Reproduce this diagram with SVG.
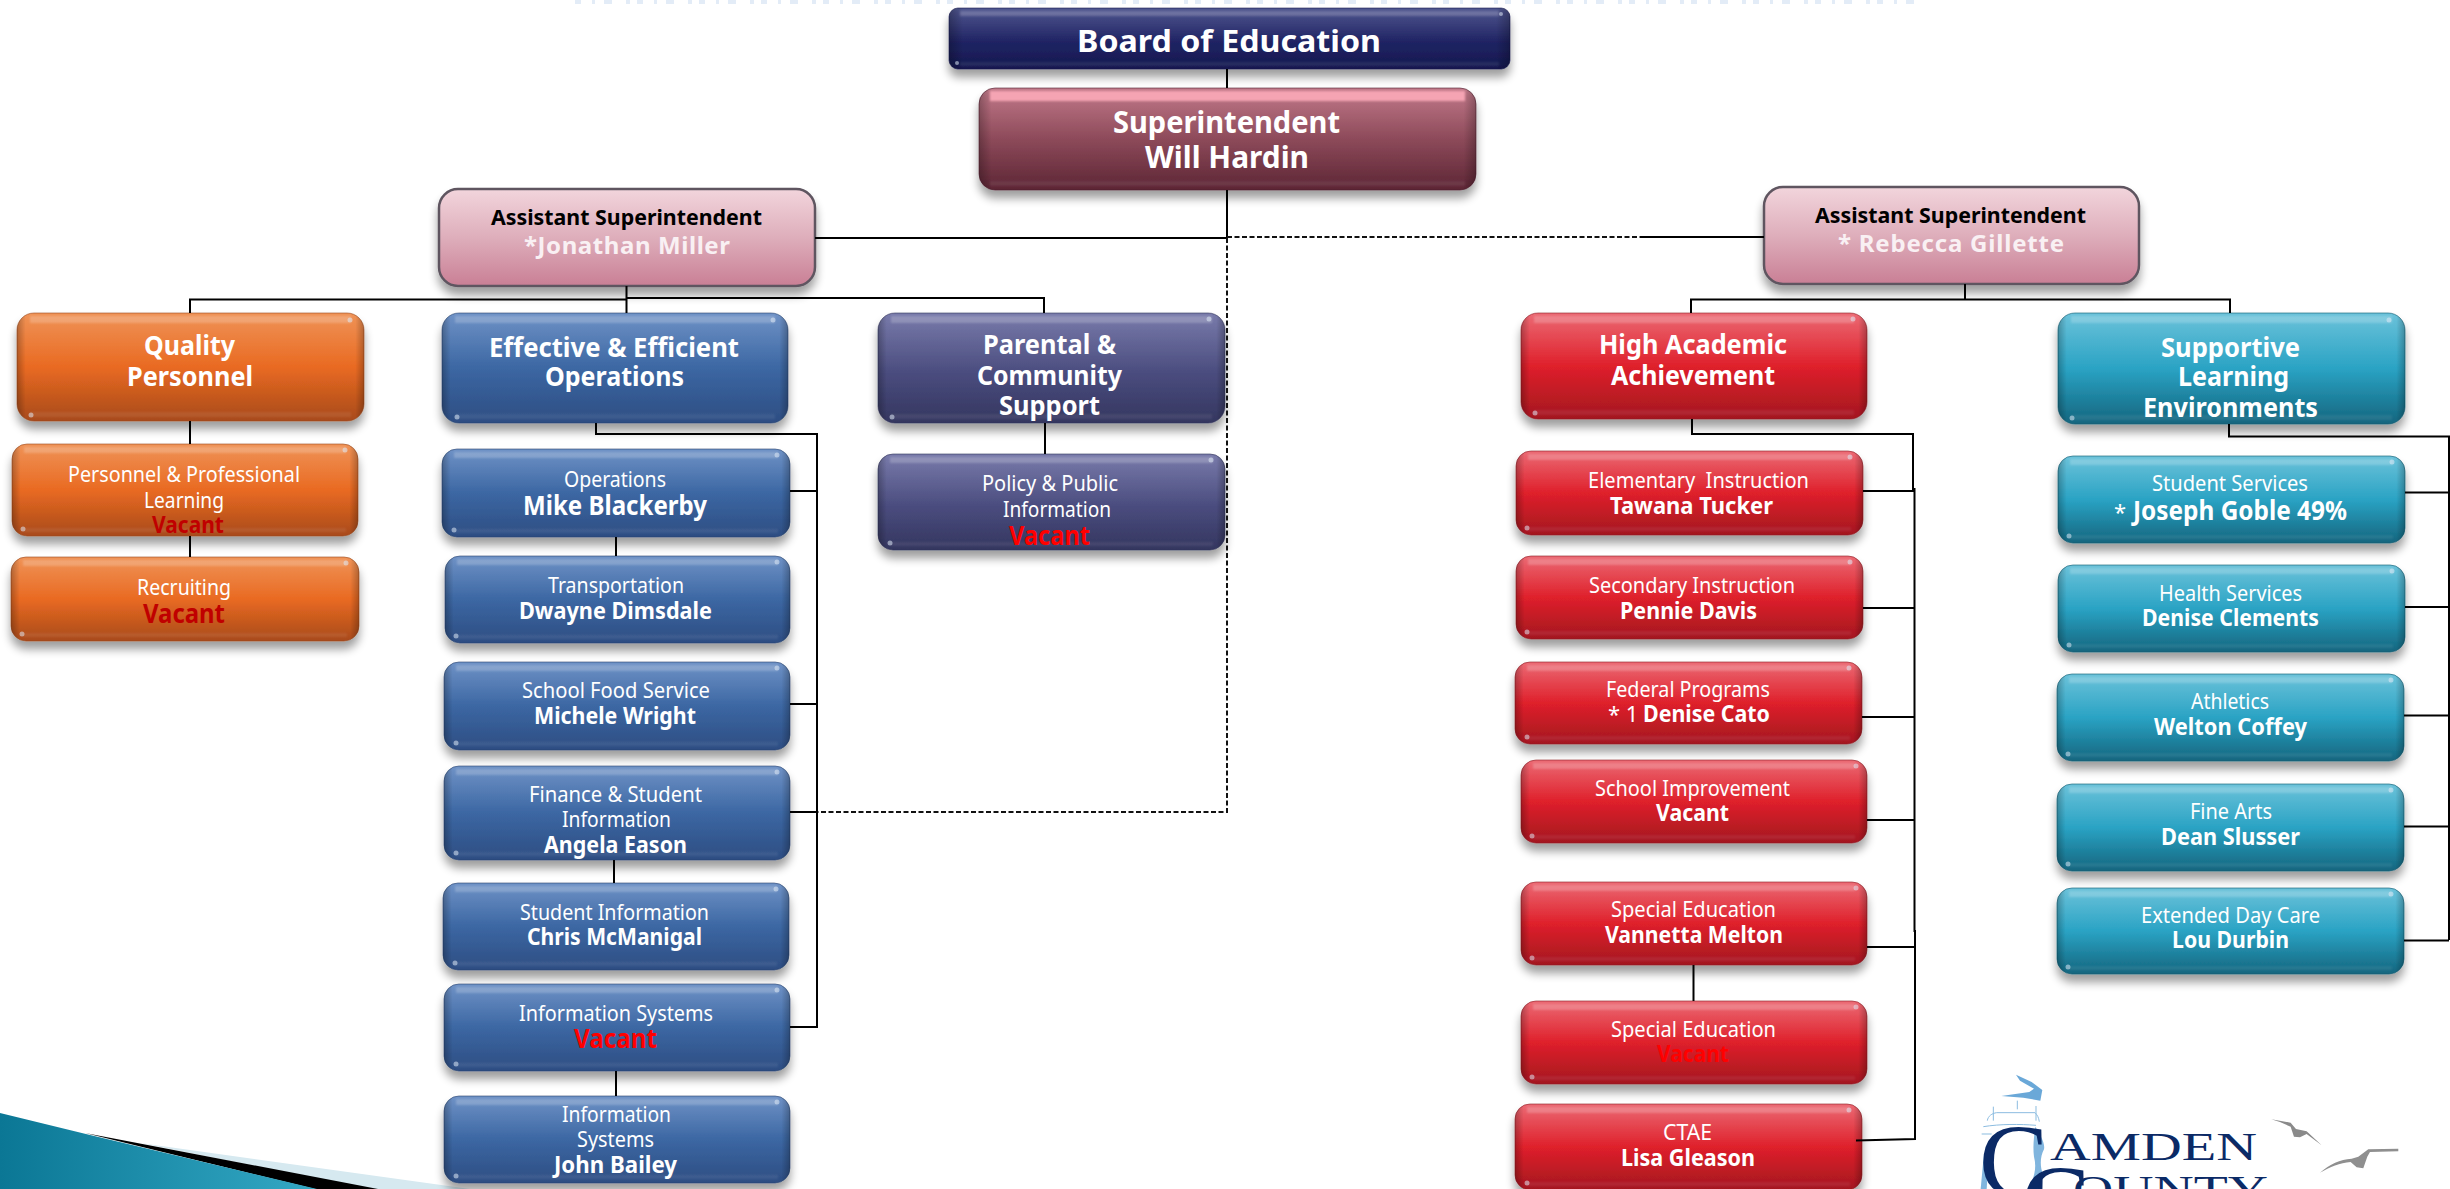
<svg xmlns="http://www.w3.org/2000/svg" width="2450" height="1189" viewBox="0 0 2450 1189">
<style>
text{font-family:"Noto Sans","Open Sans","DejaVu Sans",sans-serif;fill:#fff}
g[id^="n-"]:not(#n-board):not(#n-super),#connectors{transform:translateY(1px)}
.r{font-size:22px;font-weight:400}
.b{font-size:23px;font-weight:700}
.h{font-size:26px;font-weight:700}
.xl{font-size:31px;font-weight:700}
.k{font-size:22px;font-weight:700;fill:#000}
.p{font-size:24px;font-weight:700;fill:#f9f0f3}
.vd{fill:#c00000}
.vr{fill:#ff0000}
.box{filter:url(#sh)}
.orange{fill:url(#gO);stroke:#9a4a20;stroke-opacity:.6}
.blue{fill:url(#gB);stroke:#2a4470;stroke-opacity:.6}
.indigo{fill:url(#gI);stroke:#33355a;stroke-opacity:.6}
.red{fill:url(#gR);stroke:#8e1c24;stroke-opacity:.6}
.teal{fill:url(#gT);stroke:#125a70;stroke-opacity:.6}
.maroon{fill:url(#gM);stroke:#4e2030;stroke-opacity:.6}
.navy{fill:url(#gN);stroke:#14174e;stroke-opacity:.6}
.pink{fill:url(#gP);stroke:#5e5560;stroke-width:2.5}
.edge{fill:url(#gE)}
.ht{fill:#fff;opacity:.2;filter:url(#bl)}
.hb{fill:#fff;opacity:.07;filter:url(#bl)}
.dot{fill:#dfeaf6;opacity:.55}
.ln{fill:none;stroke:#000;stroke-width:2}
.da{fill:none;stroke:#111;stroke-width:2;stroke-dasharray:5 2.5}
.lg{font-family:"Liberation Serif",serif;fill:#0b2a66}
</style>
<defs>
<filter id="sh" x="-6%" y="-10%" width="112%" height="140%"><feGaussianBlur in="SourceAlpha" stdDeviation="5"/><feOffset dy="8"/><feComponentTransfer><feFuncA type="linear" slope=".38"/></feComponentTransfer><feMerge><feMergeNode/><feMergeNode in="SourceGraphic"/></feMerge></filter>
<filter id="bl" x="-5%" y="-50%" width="110%" height="200%"><feGaussianBlur stdDeviation="1.3"/></filter>
<linearGradient id="gO" x1="0" y1="0" x2="0" y2="1"><stop offset="0" stop-color="#ef9357"/><stop offset=".5" stop-color="#e96a22"/><stop offset="1" stop-color="#a84a1a"/></linearGradient>
<linearGradient id="gB" x1="0" y1="0" x2="0" y2="1"><stop offset="0" stop-color="#6f92c6"/><stop offset=".5" stop-color="#3c67a3"/><stop offset="1" stop-color="#2d4d82"/></linearGradient>
<linearGradient id="gI" x1="0" y1="0" x2="0" y2="1"><stop offset="0" stop-color="#797bab"/><stop offset=".55" stop-color="#4a4c7e"/><stop offset="1" stop-color="#34365f"/></linearGradient>
<linearGradient id="gR" x1="0" y1="0" x2="0" y2="1"><stop offset="0" stop-color="#eb6a74"/><stop offset=".5" stop-color="#df202b"/><stop offset="1" stop-color="#a3171f"/></linearGradient>
<linearGradient id="gT" x1="0" y1="0" x2="0" y2="1"><stop offset="0" stop-color="#6bc2da"/><stop offset=".5" stop-color="#2aa3c4"/><stop offset="1" stop-color="#14657e"/></linearGradient>
<linearGradient id="gM" x1="0" y1="0" x2="0" y2="1"><stop offset="0" stop-color="#c27a8a"/><stop offset=".5" stop-color="#8d4a5a"/><stop offset="1" stop-color="#5c2534"/></linearGradient>
<linearGradient id="gN" x1="0" y1="0" x2="0" y2="1"><stop offset="0" stop-color="#50568f"/><stop offset=".55" stop-color="#202464"/><stop offset="1" stop-color="#15184f"/></linearGradient>
<linearGradient id="gP" x1="0" y1="0" x2="0" y2="1"><stop offset="0" stop-color="#f2d5dc"/><stop offset=".5" stop-color="#deaebb"/><stop offset="1" stop-color="#c97f95"/></linearGradient>
<linearGradient id="gE" x1="0" y1="0" x2="1" y2="0"><stop offset="0" stop-color="#000" stop-opacity=".25"/><stop offset=".025" stop-color="#000" stop-opacity="0"/><stop offset=".975" stop-color="#000" stop-opacity="0"/><stop offset="1" stop-color="#000" stop-opacity=".25"/></linearGradient>
<linearGradient id="gS" x1="0" y1="0" x2="1" y2="0"><stop offset="0" stop-color="#0b7795"/><stop offset="1" stop-color="#33a8c4"/></linearGradient>
</defs>

<g id="decor">
<line x1="575" y1="2" x2="1915" y2="2" stroke="#e3ecf7" stroke-width="4" stroke-dasharray="6 11 3 9 8 14 4 7"/>
<polygon points="140,1143 470,1189 370,1189" fill="#d6e9f0"/>
<polygon points="85,1133 378,1189 315,1189" fill="#000"/>
<polygon points="0,1113 90,1135 317,1189 0,1189" fill="url(#gS)"/>
</g>

<g id="n-board"><rect class="box navy" x="949" y="8" width="561" height="61" rx="9"/><rect class="edge" x="949" y="8" width="561" height="61" rx="9"/><rect class="ht" x="960" y="11" width="539" height="5"/><rect class="hb" x="960" y="62" width="539" height="4"/><circle class="dot" cx="1501" cy="14" r="2"/><circle class="dot" cx="957" cy="63" r="2"/><text class="xl" x="1077" y="52" textLength="304" lengthAdjust="spacingAndGlyphs">Board of Education</text></g>

<g id="n-super"><rect class="box maroon" x="979" y="88" width="497" height="102" rx="16"/><rect class="edge" x="979" y="88" width="497" height="102" rx="16"/><rect x="990" y="91" width="475" height="10" fill="#f5a4b3" filter="url(#bl)"/><rect class="hb" x="990" y="181" width="475" height="5"/><text class="xl" x="1113" y="133" textLength="227" lengthAdjust="spacingAndGlyphs">Superintendent</text><text class="xl" x="1145" y="168" textLength="164" lengthAdjust="spacingAndGlyphs">Will Hardin</text></g>

<g id="n-asst-l"><rect class="box pink" x="439" y="188" width="376" height="97" rx="19"/><text class="k" x="491" y="224" textLength="271" lengthAdjust="spacingAndGlyphs">Assistant Superintendent</text><text class="p" x="524" y="253" textLength="206">*Jonathan Miller</text></g>

<g id="n-asst-r"><rect class="box pink" x="1764" y="186" width="375" height="97" rx="19"/><text class="k" x="1815" y="222" textLength="271" lengthAdjust="spacingAndGlyphs">Assistant Superintendent</text><text class="p" x="1838" y="251" textLength="226">* Rebecca Gillette</text></g>

<g id="n-quality"><rect class="box orange" x="17" y="312" width="347" height="108" rx="17"/><rect class="edge" x="17" y="312" width="347" height="108" rx="17"/><rect class="ht" x="30" y="315" width="321" height="7"/><rect class="hb" x="30" y="411" width="321" height="5"/><circle class="dot" cx="350" cy="319" r="2.5"/><circle class="dot" cx="31" cy="414" r="2.5"/><text class="h" x="144" y="354" textLength="91" lengthAdjust="spacingAndGlyphs">Quality</text><text class="h" x="127" y="385" textLength="126" lengthAdjust="spacingAndGlyphs">Personnel</text></g>

<g id="n-ppd"><rect class="box orange" x="12" y="443" width="346" height="92" rx="15"/><rect class="edge" x="12" y="443" width="346" height="92" rx="15"/><rect class="ht" x="24" y="446" width="322" height="6"/><rect class="hb" x="24" y="527" width="322" height="4"/><circle class="dot" cx="345" cy="449" r="2.5"/><circle class="dot" cx="23" cy="528" r="2.5"/><text class="r" x="68" y="481" textLength="232" lengthAdjust="spacingAndGlyphs">Personnel &amp; Professional</text><text class="r" x="144" y="507" textLength="80" lengthAdjust="spacingAndGlyphs">Learning</text><text class="b vd" x="152" y="532" textLength="72" lengthAdjust="spacingAndGlyphs">Vacant</text></g>

<g id="n-recruit"><rect class="box orange" x="11" y="556" width="348" height="84" rx="15"/><rect class="edge" x="11" y="556" width="348" height="84" rx="15"/><rect class="ht" x="23" y="559" width="324" height="6"/><rect class="hb" x="23" y="632" width="324" height="4"/><circle class="dot" cx="346" cy="562" r="2.5"/><circle class="dot" cx="22" cy="633" r="2.5"/><text class="r" x="137" y="594" textLength="94" lengthAdjust="spacingAndGlyphs">Recruiting</text><text class="h vd" x="143" y="622" textLength="82" lengthAdjust="spacingAndGlyphs">Vacant</text></g>

<g id="n-eeo"><rect class="box blue" x="442" y="312" width="346" height="110" rx="17"/><rect class="edge" x="442" y="312" width="346" height="110" rx="17"/><rect class="ht" x="455" y="315" width="320" height="7"/><rect class="hb" x="455" y="413" width="320" height="5"/><circle class="dot" cx="773" cy="319" r="2.5"/><circle class="dot" cx="457" cy="416" r="2.5"/><text class="h" x="489" y="356" textLength="250" lengthAdjust="spacingAndGlyphs">Effective &amp; Efficient</text><text class="h" x="545" y="385" textLength="139" lengthAdjust="spacingAndGlyphs">Operations</text></g>

<g id="n-operations"><rect class="box blue" x="442" y="448" width="348" height="88" rx="15"/><rect class="edge" x="442" y="448" width="348" height="88" rx="15"/><rect class="ht" x="454" y="451" width="324" height="6"/><rect class="hb" x="454" y="528" width="324" height="4"/><circle class="dot" cx="777" cy="454" r="2.5"/><circle class="dot" cx="454" cy="529" r="2.5"/><text class="r" x="564" y="486" textLength="102" lengthAdjust="spacingAndGlyphs">Operations</text><text class="h" x="523" y="514" textLength="184" lengthAdjust="spacingAndGlyphs">Mike Blackerby</text></g>

<g id="n-transport"><rect class="box blue" x="445" y="555" width="345" height="87" rx="15"/><rect class="edge" x="445" y="555" width="345" height="87" rx="15"/><rect class="ht" x="457" y="558" width="321" height="6"/><rect class="hb" x="457" y="634" width="321" height="4"/><circle class="dot" cx="777" cy="561" r="2.5"/><circle class="dot" cx="456" cy="635" r="2.5"/><text class="r" x="548" y="592" textLength="136" lengthAdjust="spacingAndGlyphs">Transportation</text><text class="b" x="519" y="618" textLength="193" lengthAdjust="spacingAndGlyphs">Dwayne Dimsdale</text></g>

<g id="n-food"><rect class="box blue" x="444" y="661" width="346" height="88" rx="15"/><rect class="edge" x="444" y="661" width="346" height="88" rx="15"/><rect class="ht" x="456" y="664" width="322" height="6"/><rect class="hb" x="456" y="741" width="322" height="4"/><circle class="dot" cx="777" cy="667" r="2.5"/><circle class="dot" cx="456" cy="742" r="2.5"/><text class="r" x="522" y="697" textLength="188" lengthAdjust="spacingAndGlyphs">School Food Service</text><text class="b" x="534" y="723" textLength="162" lengthAdjust="spacingAndGlyphs">Michele Wright</text></g>

<g id="n-finance"><rect class="box blue" x="444" y="765" width="346" height="94" rx="15"/><rect class="edge" x="444" y="765" width="346" height="94" rx="15"/><rect class="ht" x="456" y="768" width="322" height="6"/><rect class="hb" x="456" y="851" width="322" height="4"/><circle class="dot" cx="777" cy="771" r="2.5"/><circle class="dot" cx="456" cy="852" r="2.5"/><text class="r" x="529" y="801" textLength="173" lengthAdjust="spacingAndGlyphs">Finance &amp; Student</text><text class="r" x="562" y="826" textLength="109" lengthAdjust="spacingAndGlyphs">Information</text><text class="b" x="544" y="852" textLength="143" lengthAdjust="spacingAndGlyphs">Angela Eason</text></g>

<g id="n-studinfo"><rect class="box blue" x="443" y="882" width="346" height="87" rx="15"/><rect class="edge" x="443" y="882" width="346" height="87" rx="15"/><rect class="ht" x="455" y="885" width="322" height="6"/><rect class="hb" x="455" y="961" width="322" height="4"/><circle class="dot" cx="776" cy="888" r="2.5"/><circle class="dot" cx="455" cy="962" r="2.5"/><text class="r" x="520" y="919" textLength="189" lengthAdjust="spacingAndGlyphs">Student Information</text><text class="b" x="527" y="944" textLength="175" lengthAdjust="spacingAndGlyphs">Chris McManigal</text></g>

<g id="n-infosys"><rect class="box blue" x="444" y="983" width="346" height="87" rx="15"/><rect class="edge" x="444" y="983" width="346" height="87" rx="15"/><rect class="ht" x="456" y="986" width="322" height="6"/><rect class="hb" x="456" y="1062" width="322" height="4"/><circle class="dot" cx="777" cy="989" r="2.5"/><circle class="dot" cx="456" cy="1063" r="2.5"/><text class="r" x="519" y="1020" textLength="194" lengthAdjust="spacingAndGlyphs">Information Systems</text><text class="h vr" x="574" y="1047" textLength="83" lengthAdjust="spacingAndGlyphs">Vacant</text></g>

<g id="n-infosys2"><rect class="box blue" x="444" y="1095" width="346" height="87" rx="15"/><rect class="edge" x="444" y="1095" width="346" height="87" rx="15"/><rect class="ht" x="456" y="1098" width="322" height="6"/><rect class="hb" x="456" y="1174" width="322" height="4"/><circle class="dot" cx="777" cy="1101" r="2.5"/><circle class="dot" cx="456" cy="1175" r="2.5"/><text class="r" x="562" y="1121" textLength="109" lengthAdjust="spacingAndGlyphs">Information</text><text class="r" x="577" y="1146" textLength="77" lengthAdjust="spacingAndGlyphs">Systems</text><text class="b" x="554" y="1172" textLength="123" lengthAdjust="spacingAndGlyphs">John Bailey</text></g>

<g id="n-parental"><rect class="box indigo" x="878" y="312" width="347" height="110" rx="17"/><rect class="edge" x="878" y="312" width="347" height="110" rx="17"/><rect class="ht" x="891" y="315" width="321" height="7"/><rect class="hb" x="891" y="413" width="321" height="5"/><circle class="dot" cx="1209" cy="318" r="2.5"/><circle class="dot" cx="892" cy="416" r="2.5"/><text class="h" x="983" y="353" textLength="133" lengthAdjust="spacingAndGlyphs">Parental &amp;</text><text class="h" x="977" y="384" textLength="145" lengthAdjust="spacingAndGlyphs">Community</text><text class="h" x="999" y="414" textLength="101" lengthAdjust="spacingAndGlyphs">Support</text></g>

<g id="n-policy"><rect class="box indigo" x="878" y="453" width="347" height="96" rx="15"/><rect class="edge" x="878" y="453" width="347" height="96" rx="15"/><rect class="ht" x="890" y="456" width="323" height="6"/><rect class="hb" x="890" y="541" width="323" height="4"/><circle class="dot" cx="1211" cy="459" r="2.5"/><circle class="dot" cx="890" cy="542" r="2.5"/><text class="r" x="982" y="490" textLength="136" lengthAdjust="spacingAndGlyphs">Policy &amp; Public</text><text class="r" x="1003" y="516" textLength="108" lengthAdjust="spacingAndGlyphs">Information</text><text class="h vr" x="1009" y="544" textLength="81" lengthAdjust="spacingAndGlyphs">Vacant</text></g>

<g id="n-high"><rect class="box red" x="1521" y="312" width="346" height="106" rx="17"/><rect class="edge" x="1521" y="312" width="346" height="106" rx="17"/><rect class="ht" x="1534" y="315" width="320" height="7"/><rect class="hb" x="1534" y="409" width="320" height="5"/><circle class="dot" cx="1853" cy="318" r="2.5"/><circle class="dot" cx="1535" cy="412" r="2.5"/><text class="h" x="1599" y="353" textLength="188" lengthAdjust="spacingAndGlyphs">High Academic</text><text class="h" x="1611" y="384" textLength="164" lengthAdjust="spacingAndGlyphs">Achievement</text></g>

<g id="n-elem"><rect class="box red" x="1516" y="450" width="347" height="84" rx="15"/><rect class="edge" x="1516" y="450" width="347" height="84" rx="15"/><rect class="ht" x="1528" y="453" width="323" height="6"/><rect class="hb" x="1528" y="526" width="323" height="4"/><circle class="dot" cx="1850" cy="456" r="2.5"/><circle class="dot" cx="1527" cy="527" r="2.5"/><text class="r" x="1588" y="487" textLength="221" lengthAdjust="spacingAndGlyphs" xml:space="preserve">Elementary  Instruction</text><text class="b" x="1610" y="513" textLength="163" lengthAdjust="spacingAndGlyphs">Tawana Tucker</text></g>

<g id="n-second"><rect class="box red" x="1516" y="555" width="347" height="83" rx="15"/><rect class="edge" x="1516" y="555" width="347" height="83" rx="15"/><rect class="ht" x="1528" y="558" width="323" height="6"/><rect class="hb" x="1528" y="630" width="323" height="4"/><circle class="dot" cx="1850" cy="561" r="2.5"/><circle class="dot" cx="1527" cy="631" r="2.5"/><text class="r" x="1589" y="592" textLength="206" lengthAdjust="spacingAndGlyphs">Secondary Instruction</text><text class="b" x="1620" y="618" textLength="137" lengthAdjust="spacingAndGlyphs">Pennie Davis</text></g>

<g id="n-federal"><rect class="box red" x="1515" y="661" width="347" height="82" rx="15"/><rect class="edge" x="1515" y="661" width="347" height="82" rx="15"/><rect class="ht" x="1527" y="664" width="323" height="6"/><rect class="hb" x="1527" y="735" width="323" height="4"/><circle class="dot" cx="1849" cy="667" r="2.5"/><circle class="dot" cx="1527" cy="736" r="2.5"/><text class="r" x="1606" y="696" textLength="164" lengthAdjust="spacingAndGlyphs">Federal Programs</text><text class="r" x="1608" y="721">* 1</text><text class="b" x="1643" y="721" textLength="127" lengthAdjust="spacingAndGlyphs">Denise Cato</text></g>

<g id="n-improve"><rect class="box red" x="1521" y="759" width="346" height="83" rx="15"/><rect class="edge" x="1521" y="759" width="346" height="83" rx="15"/><rect class="ht" x="1533" y="762" width="322" height="6"/><rect class="hb" x="1533" y="834" width="322" height="4"/><circle class="dot" cx="1856" cy="765" r="2.5"/><circle class="dot" cx="1532" cy="835" r="2.5"/><text class="r" x="1595" y="795" textLength="195" lengthAdjust="spacingAndGlyphs">School Improvement</text><text class="b" x="1656" y="820" textLength="73" lengthAdjust="spacingAndGlyphs">Vacant</text></g>

<g id="n-sped1"><rect class="box red" x="1521" y="881" width="346" height="83" rx="15"/><rect class="edge" x="1521" y="881" width="346" height="83" rx="15"/><rect class="ht" x="1533" y="884" width="322" height="6"/><rect class="hb" x="1533" y="956" width="322" height="4"/><circle class="dot" cx="1856" cy="887" r="2.5"/><circle class="dot" cx="1532" cy="957" r="2.5"/><text class="r" x="1611" y="916" textLength="165" lengthAdjust="spacingAndGlyphs">Special Education</text><text class="b" x="1605" y="942" textLength="178" lengthAdjust="spacingAndGlyphs">Vannetta Melton</text></g>

<g id="n-sped2"><rect class="box red" x="1521" y="1000" width="346" height="83" rx="15"/><rect class="edge" x="1521" y="1000" width="346" height="83" rx="15"/><rect class="ht" x="1533" y="1003" width="322" height="6"/><rect class="hb" x="1533" y="1075" width="322" height="4"/><circle class="dot" cx="1856" cy="1006" r="2.5"/><circle class="dot" cx="1532" cy="1076" r="2.5"/><text class="r" x="1611" y="1036" textLength="165" lengthAdjust="spacingAndGlyphs">Special Education</text><text class="b vr" x="1657" y="1061" textLength="72" lengthAdjust="spacingAndGlyphs">Vacant</text></g>

<g id="n-ctae"><rect class="box red" x="1515" y="1103" width="347" height="86" rx="15"/><rect class="edge" x="1515" y="1103" width="347" height="86" rx="15"/><rect class="ht" x="1527" y="1106" width="323" height="6"/><rect class="hb" x="1527" y="1181" width="323" height="4"/><circle class="dot" cx="1849" cy="1109" r="2.5"/><circle class="dot" cx="1527" cy="1182" r="2.5"/><text class="r" x="1663" y="1139" textLength="49" lengthAdjust="spacingAndGlyphs">CTAE</text><text class="b" x="1621" y="1165" textLength="134" lengthAdjust="spacingAndGlyphs">Lisa Gleason</text></g>

<g id="n-support"><rect class="box teal" x="2058" y="312" width="347" height="111" rx="17"/><rect class="edge" x="2058" y="312" width="347" height="111" rx="17"/><rect class="ht" x="2071" y="315" width="321" height="7"/><rect class="hb" x="2071" y="414" width="321" height="5"/><circle class="dot" cx="2389" cy="319" r="2.5"/><circle class="dot" cx="2072" cy="417" r="2.5"/><text class="h" x="2161" y="356" textLength="139" lengthAdjust="spacingAndGlyphs">Supportive</text><text class="h" x="2178" y="385" textLength="111" lengthAdjust="spacingAndGlyphs">Learning</text><text class="h" x="2143" y="416" textLength="175" lengthAdjust="spacingAndGlyphs">Environments</text></g>

<g id="n-student"><rect class="box teal" x="2058" y="455" width="347" height="87" rx="15"/><rect class="edge" x="2058" y="455" width="347" height="87" rx="15"/><rect class="ht" x="2070" y="458" width="323" height="6"/><rect class="hb" x="2070" y="534" width="323" height="4"/><circle class="dot" cx="2392" cy="461" r="2.5"/><circle class="dot" cx="2069" cy="535" r="2.5"/><text class="r" x="2152" y="490" textLength="156" lengthAdjust="spacingAndGlyphs">Student Services</text><text class="r" x="2114" y="519">*</text><text class="h" x="2133" y="519" textLength="214" lengthAdjust="spacingAndGlyphs">Joseph Goble 49%</text></g>

<g id="n-health"><rect class="box teal" x="2058" y="564" width="347" height="87" rx="15"/><rect class="edge" x="2058" y="564" width="347" height="87" rx="15"/><rect class="ht" x="2070" y="567" width="323" height="6"/><rect class="hb" x="2070" y="643" width="323" height="4"/><circle class="dot" cx="2392" cy="570" r="2.5"/><circle class="dot" cx="2069" cy="644" r="2.5"/><text class="r" x="2159" y="600" textLength="143" lengthAdjust="spacingAndGlyphs">Health Services</text><text class="b" x="2142" y="625" textLength="177" lengthAdjust="spacingAndGlyphs">Denise Clements</text></g>

<g id="n-athletics"><rect class="box teal" x="2057" y="673" width="347" height="87" rx="15"/><rect class="edge" x="2057" y="673" width="347" height="87" rx="15"/><rect class="ht" x="2069" y="676" width="323" height="6"/><rect class="hb" x="2069" y="752" width="323" height="4"/><circle class="dot" cx="2391" cy="679" r="2.5"/><circle class="dot" cx="2068" cy="753" r="2.5"/><text class="r" x="2191" y="708" textLength="78" lengthAdjust="spacingAndGlyphs">Athletics</text><text class="b" x="2154" y="734" textLength="153" lengthAdjust="spacingAndGlyphs">Welton Coffey</text></g>

<g id="n-finearts"><rect class="box teal" x="2057" y="783" width="347" height="87" rx="15"/><rect class="edge" x="2057" y="783" width="347" height="87" rx="15"/><rect class="ht" x="2069" y="786" width="323" height="6"/><rect class="hb" x="2069" y="862" width="323" height="4"/><circle class="dot" cx="2391" cy="789" r="2.5"/><circle class="dot" cx="2068" cy="863" r="2.5"/><text class="r" x="2190" y="818" textLength="82" lengthAdjust="spacingAndGlyphs">Fine Arts</text><text class="b" x="2161" y="844" textLength="139" lengthAdjust="spacingAndGlyphs">Dean Slusser</text></g>

<g id="n-daycare"><rect class="box teal" x="2057" y="887" width="347" height="86" rx="15"/><rect class="edge" x="2057" y="887" width="347" height="86" rx="15"/><rect class="ht" x="2069" y="890" width="323" height="6"/><rect class="hb" x="2069" y="965" width="323" height="4"/><circle class="dot" cx="2391" cy="893" r="2.5"/><circle class="dot" cx="2068" cy="966" r="2.5"/><text class="r" x="2141" y="922" textLength="179" lengthAdjust="spacingAndGlyphs">Extended Day Care</text><text class="b" x="2172" y="947" textLength="117" lengthAdjust="spacingAndGlyphs">Lou Durbin</text></g>

<g id="connectors">
<path class="ln" d="M1227 68V87M1227 189V237M815 237H1227M1640 236H1764"/>
<path class="da" d="M1227 236H1640"/>
<path class="da" d="M1227 237V811H812"/>
<path class="ln" d="M790 811H818"/>
<path class="ln" d="M626.500 285V312M190 312V298.500H626.500M626.500 297H1044V312"/>
<path class="ln" d="M190 420V443M190 535V556"/>
<path class="ln" d="M596 422V433H817V1026H790M790 490H817M790 703H817"/>
<path class="ln" d="M616 536V555M614 859V882M616 1070V1095M1045 422V453"/>
<path class="ln" d="M1965 283V298.500M1691 312V298.500H2230V312"/>
<path class="ln" d="M1692 418V433H1913V488H1914.500V930H1915V1138L1856 1139.500"/>
<path class="ln" d="M1863 490H1914M1863 607H1914M1862 716H1914M1867 819H1914M1867 946H1915"/>
<path class="ln" d="M1693.500 964V1000"/>
<path class="ln" d="M2229 423V435.500H2449V939M2405 491.500H2449M2405 606H2449M2404 714.500H2449M2404 825.500H2449M2404 939.500H2449"/>
</g>

<g id="logo">
<g transform="translate(1960 1060) scale(.3333)">
<path fill="#6aa8d8" d="M168 44L215 66L247 90L241 122L190 113L124 108L208 96L222 86L180 62Z"/>
<path fill="none" stroke="#8cbce0" stroke-width="3" d="M82 182C84 168 96 160 110 158L225 158C232 165 236 172 238 185M172 122V148M100 140V182M228 138V182M65 222H95M70 200C120 192 180 192 228 196"/>
<path fill="#6aa8d8" opacity=".85" d="M226 200C240 225 256 248 252 268C240 290 240 320 248 340L232 387H205C225 350 230 320 222 290C218 260 222 230 226 200ZM72 280L86 300L80 387H62Z"/>
<path fill="#8a8a8a" d="M934 178L992 188L1008 207L1040 214L1085 256L1040 222L1020 232L1002 230L992 200L960 186Z"/>
<path fill="#8f8f8f" d="M1080 338C1110 312 1140 298 1175 296L1195 290L1225 268L1315 266V274L1230 276L1222 290L1210 325L1190 322L1172 306C1140 308 1110 322 1080 338Z"/>
</g>
<text class="lg" x="1979" y="1196" font-size="104">C</text>
<text class="lg" x="2021" y="1237" font-size="104">C</text>
<text class="lg" x="2050" y="1160" font-size="40" textLength="207" lengthAdjust="spacingAndGlyphs">AMDEN</text>
<text class="lg" x="2073" y="1203" font-size="40" textLength="195" lengthAdjust="spacingAndGlyphs">OUNTY</text>
</g>
</svg>
